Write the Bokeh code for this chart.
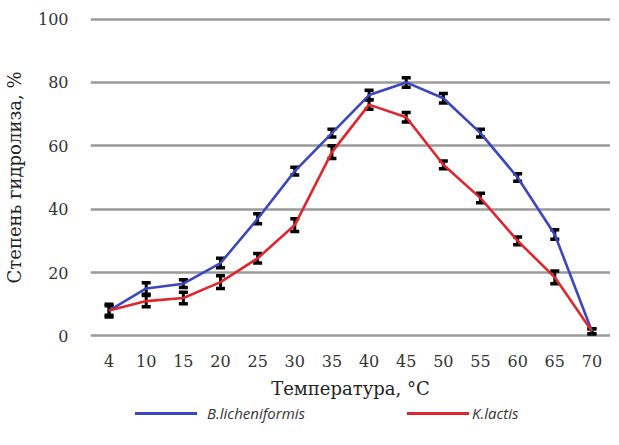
from bokeh.plotting import figure
from bokeh.models import ColumnDataSource, Whisker, TeeHead, FixedTicker, Range1d, Div
from bokeh.layouts import column
from bokeh.embed import file_html
from bokeh.resources import INLINE

temps = ["4", "10", "15", "20", "25", "30", "35", "40", "45", "50", "55", "60", "65", "70"]
b_lich = [8, 15, 16.5, 23, 37, 52, 64, 76, 80, 75, 64, 50, 32, 1.5]
b_err = [2, 1.8, 1.2, 1.5, 1.6, 1.2, 1.2, 1.5, 1.5, 1.5, 1.2, 1.2, 1.5, 0.8]
k_lact = [8, 11, 12, 17, 24.5, 35, 58, 73, 69, 54, 43.5, 30, 18.5, 1.5]
k_err = [1.5, 1.8, 1.8, 2, 1.5, 2, 2, 1.5, 1.5, 1.2, 1.5, 1.2, 2, 0.8]
y_ticks = [0, 20, 40, 60, 80, 100]
series_names = ["B.licheniformis", "K.lactis"]

BLUE = "#3c46bd"
RED = "#e0262d"
SERIF = "DejaVu Serif"

p = figure(x_range=temps, y_range=Range1d(-0.8, 100.8),
           frame_width=520, frame_height=322,
           output_backend="svg", toolbar_location=None,
           min_border_left=83, min_border_right=0, min_border_top=16,
           min_border_bottom=0)
p.outline_line_color = None
p.background_fill_color = "white"

src_b = ColumnDataSource(dict(x=temps, y=b_lich,
                              lo=[v - e for v, e in zip(b_lich, b_err)],
                              hi=[v + e for v, e in zip(b_lich, b_err)]))
src_k = ColumnDataSource(dict(x=temps, y=k_lact,
                              lo=[v - e for v, e in zip(k_lact, k_err)],
                              hi=[v + e for v, e in zip(k_lact, k_err)]))

rb = p.line("x", "y", source=src_b, line_color=BLUE, line_width=2.6)
rk = p.line("x", "y", source=src_k, line_color=RED, line_width=2.6)

for src in (src_b, src_k):
    w = Whisker(source=src, base="x", upper="hi", lower="lo",
                line_color="black", line_width=3,
                upper_head=TeeHead(size=9, line_width=3.5, line_color="black"),
                lower_head=TeeHead(size=9, line_width=3.5, line_color="black"))
    p.add_layout(w)

p.xgrid.grid_line_color = None
p.ygrid.grid_line_color = "#9a9a9a"
p.ygrid.grid_line_width = 2.5
p.yaxis.ticker = FixedTicker(ticks=y_ticks)

for ax in (p.xaxis[0], p.yaxis[0]):
    ax.axis_line_color = None
    ax.major_tick_line_color = None
    ax.minor_tick_line_color = None
    ax.major_label_text_font = SERIF
    ax.major_label_text_font_size = "16px"
    ax.major_label_text_color = "#333333"
    ax.axis_label_text_font = SERIF
    ax.axis_label_text_font_size = "18px"
    ax.axis_label_text_font_style = "normal"
    ax.axis_label_text_color = "#222222"

p.yaxis.major_label_standoff = 16
p.xaxis.major_label_standoff = 10
p.yaxis.axis_label = "Степень гидролиза, %"
p.xaxis.axis_label = "Температура, °C"
p.xaxis.axis_label_standoff = 8
p.yaxis.axis_label_standoff = 10

line_css = "position:absolute;top:11px;width:62px;height:0;border-top:3px solid {c};"
text_css = ("position:absolute;top:0px;font-family:'Open Sans';font-style:italic;"
            "font-size:15px;line-height:24px;color:#333333;white-space:nowrap;")
legend_html = (
    '<div style="position:relative;width:603px;height:26px;">'
    f'<span style="{line_css.format(c=BLUE)}left:135px;"></span>'
    f'<span style="{text_css}left:207px;">{series_names[0]}</span>'
    f'<span style="{line_css.format(c=RED)}left:407px;"></span>'
    f'<span style="{text_css}left:472px;">{series_names[1]}</span>'
    '</div>'
)
legend_div = Div(text=legend_html, width=603, height=26, margin=(0, 0, 0, 0))

layout = column(p, legend_div, spacing=0)

open("out.html", "w").write(file_html(layout, INLINE))
